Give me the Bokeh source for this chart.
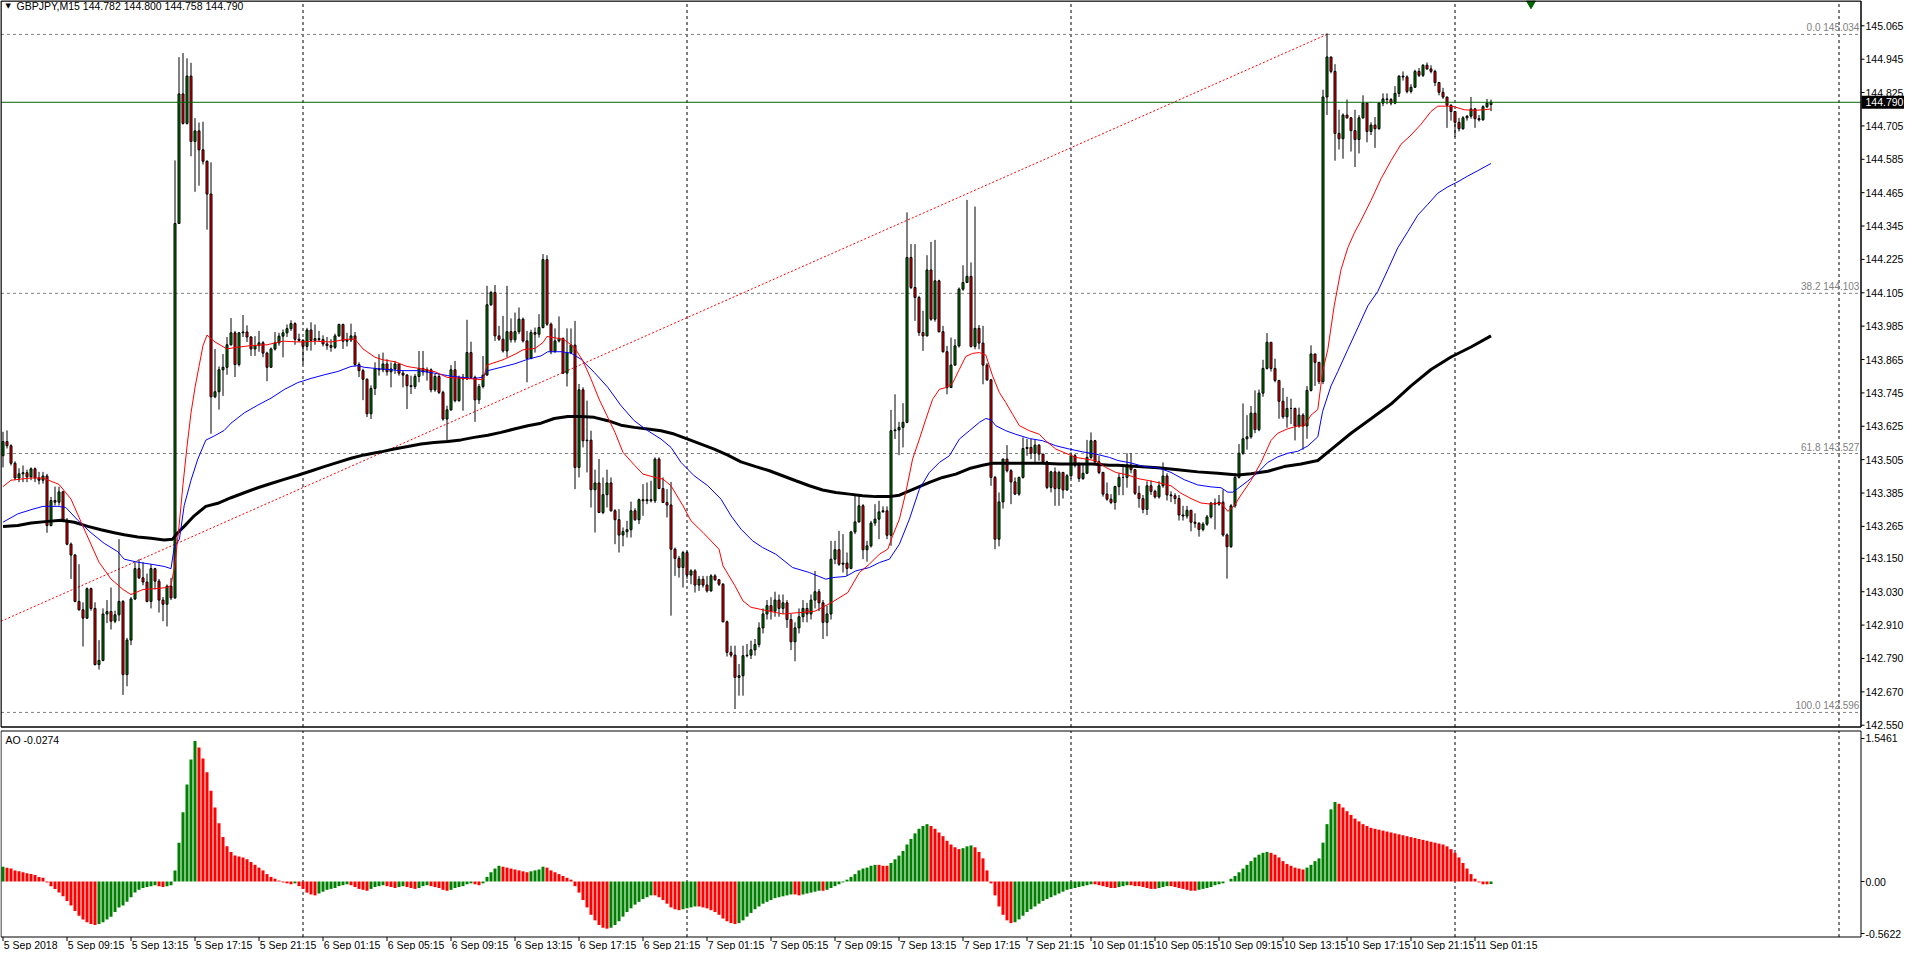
from bokeh.plotting import figure
from bokeh.models import Range1d
from bokeh.core.properties import value
from bokeh.embed import file_html
from bokeh.resources import INLINE

# ---------------- data (GBPJPY M15) ----------------
closes = [
    143.570, 143.555, 143.492, 143.439, 143.454, 143.458, 143.443, 143.472, 143.439, 143.431,
    143.446, 143.268, 143.358, 143.352, 143.389, 143.287, 143.201, 143.162, 142.995, 142.965,
    142.935, 143.041, 142.970, 142.768, 142.783, 142.950, 142.959, 142.924, 142.947, 142.995,
    142.732, 142.856, 143.004, 143.113, 143.080, 143.065, 142.995, 143.113, 143.068, 143.000,
    142.985, 143.050, 143.008, 144.354, 144.820, 144.714, 144.884, 144.649, 144.687, 144.619,
    144.578, 144.460, 143.731, 143.749, 143.828, 143.837, 143.918, 143.961, 143.847, 143.961,
    143.964, 143.946, 143.903, 143.915, 143.925, 143.888, 143.837, 143.903, 143.925, 143.949,
    143.961, 143.976, 143.994, 143.938, 143.934, 143.912, 143.971, 143.934, 143.940, 143.937,
    143.921, 143.915, 143.909, 143.950, 143.991, 143.931, 143.935, 143.950, 143.847, 143.825,
    143.794, 143.670, 143.761, 143.832, 143.828, 143.849, 143.821, 143.831, 143.849, 143.816,
    143.809, 143.771, 143.768, 143.804, 143.833, 143.821, 143.828, 143.756, 143.804, 143.747,
    143.651, 143.684, 143.828, 143.717, 143.801, 143.795, 143.890, 143.801, 143.720, 143.768,
    143.809, 144.062, 144.106, 143.950, 143.938, 143.896, 143.965, 143.936, 143.965, 144.010,
    143.932, 143.869, 143.962, 143.956, 143.980, 144.224, 143.992, 143.893, 143.932, 143.941,
    143.816, 143.890, 143.917, 143.477, 143.756, 143.573, 143.575, 143.397, 143.421, 143.315,
    143.379, 143.421, 143.321, 143.289, 143.234, 143.246, 143.253, 143.321, 143.289, 143.361,
    143.357, 143.361, 143.357, 143.507, 143.401, 143.351, 143.342, 143.183, 143.150, 143.117,
    143.171, 143.090, 143.105, 143.054, 143.075, 143.054, 143.033, 143.087, 143.073, 143.057,
    142.922, 142.812, 142.802, 142.722, 142.728, 142.800, 142.802, 142.821, 142.840, 142.900,
    142.950, 142.980, 142.960, 143.000, 142.970, 142.990, 142.930, 142.850, 142.900, 142.940,
    142.970, 142.950, 143.000, 143.030, 142.990, 142.920, 142.950, 143.147, 143.181, 143.129,
    143.133, 143.114, 143.245, 143.281, 143.339, 143.181, 143.195, 143.277, 143.291, 143.317,
    143.321, 143.233, 143.609, 143.612, 143.621, 143.639, 144.232, 144.124, 144.088, 143.962,
    143.950, 144.187, 144.010, 144.148, 143.965, 143.893, 143.764, 143.845, 143.914, 144.118,
    144.142, 144.164, 143.912, 143.977, 143.924, 143.845, 143.792, 143.441, 143.219, 143.353,
    143.507, 143.465, 143.425, 143.381, 143.441, 143.545, 143.549, 143.528, 143.557, 143.525,
    143.497, 143.405, 143.461, 143.401, 143.459, 143.396, 143.447, 143.519, 143.485, 143.437,
    143.456, 143.513, 143.573, 143.497, 143.459, 143.381, 143.363, 143.351, 143.408, 143.441,
    143.441, 143.485, 143.469, 143.384, 143.365, 143.326, 143.411, 143.391, 143.371, 143.411,
    143.446, 143.378, 143.375, 143.365, 143.306, 143.302, 143.323, 143.280, 143.276, 143.254,
    143.273, 143.299, 143.349, 143.345, 143.352, 143.234, 143.192, 143.339, 143.441, 143.528,
    143.580, 143.587, 143.672, 143.613, 143.744, 143.833, 143.927, 143.833, 143.790, 143.715,
    143.659, 143.689, 143.689, 143.626, 143.665, 143.626, 143.754, 143.885, 143.855, 143.786,
    144.809, 144.953, 144.901, 144.678, 144.659, 144.744, 144.734, 144.688, 144.656, 144.734,
    144.787, 144.685, 144.708, 144.695, 144.787, 144.802, 144.800, 144.787, 144.822, 144.884,
    144.881, 144.829, 144.844, 144.901, 144.887, 144.923, 144.910, 144.901, 144.861, 144.826,
    144.809, 144.779, 144.757, 144.718, 144.695, 144.734, 144.740, 144.766, 144.731, 144.727,
    144.774, 144.787, 144.790,
]
highs = [
    143.605, 143.610, 143.560, 143.499, 143.474, 143.484, 143.469, 143.477, 143.477, 143.461,
    143.461, 143.454, 143.371, 143.408, 143.408, 143.393, 143.295, 143.207, 143.166, 143.129,
    142.992, 143.045, 143.045, 142.992, 142.856, 142.970, 143.000, 143.045, 142.962, 143.219,
    143.000, 142.864, 143.011, 143.136, 143.147, 143.136, 143.095, 143.129, 143.116, 143.076,
    143.011, 143.056, 143.080, 144.581, 144.952, 144.967, 144.948, 144.932, 144.733, 144.717,
    144.720, 144.581, 144.574, 143.903, 143.840, 143.885, 143.946, 144.014, 143.968, 143.964,
    144.025, 143.988, 143.949, 143.949, 143.968, 143.931, 143.893, 143.908, 143.964, 143.961,
    143.973, 143.991, 144.006, 143.999, 143.958, 143.938, 143.979, 143.999, 143.991, 143.968,
    143.952, 143.946, 143.938, 143.958, 143.994, 143.994, 143.961, 143.994, 143.964, 143.855,
    143.832, 143.797, 143.772, 143.855, 143.884, 143.890, 143.866, 143.855, 143.860, 143.849,
    143.825, 143.813, 143.807, 143.813, 143.896, 143.896, 143.837, 143.833, 143.813, 143.813,
    143.753, 143.699, 143.845, 143.860, 143.807, 143.813, 144.008, 143.929, 143.807, 143.777,
    143.878, 144.130, 144.112, 144.133, 143.986, 144.022, 144.130, 144.013, 144.034, 144.052,
    144.016, 143.968, 143.972, 143.980, 144.028, 144.244, 144.240, 143.998, 143.977, 144.020,
    143.944, 143.977, 143.977, 144.004, 143.777, 143.765, 143.717, 143.609, 143.469, 143.507,
    143.441, 143.469, 143.441, 143.327, 143.327, 143.261, 143.285, 143.354, 143.330, 143.365,
    143.417, 143.423, 143.429, 143.513, 143.513, 143.441, 143.399, 143.425, 143.189, 143.159,
    143.177, 143.177, 143.111, 143.111, 143.087, 143.087, 143.087, 143.093, 143.093, 143.075,
    143.061, 142.926, 142.836, 142.836, 142.770, 142.836, 142.842, 142.854, 142.860, 142.920,
    142.970, 143.000, 143.010, 143.030, 143.020, 143.020, 143.000, 142.950, 142.920, 142.970,
    143.000, 142.990, 143.020, 143.105, 143.040, 143.000, 142.980, 143.213, 143.213, 143.249,
    143.237, 143.171, 143.249, 143.381, 143.381, 143.345, 143.213, 143.285, 143.345, 143.357,
    143.337, 143.337, 143.684, 143.740, 143.641, 143.708, 144.394, 144.280, 144.280, 144.094,
    144.040, 144.240, 144.288, 144.295, 144.152, 143.986, 143.914, 143.944, 143.938, 144.124,
    144.204, 144.439, 144.214, 144.415, 143.989, 143.986, 143.852, 143.794, 143.447, 143.387,
    143.509, 143.557, 143.471, 143.441, 143.444, 143.585, 143.579, 143.579, 143.576, 143.561,
    143.519, 143.501, 143.465, 143.477, 143.465, 143.461, 143.453, 143.531, 143.525, 143.495,
    143.489, 143.576, 143.603, 143.576, 143.519, 143.461, 143.423, 143.381, 143.411, 143.456,
    143.485, 143.528, 143.528, 143.469, 143.411, 143.378, 143.427, 143.430, 143.397, 143.427,
    143.495, 143.456, 143.391, 143.384, 143.378, 143.339, 143.339, 143.319, 143.312, 143.280,
    143.280, 143.306, 143.352, 143.365, 143.378, 143.397, 143.240, 143.345, 143.456, 143.561,
    143.707, 143.665, 143.698, 143.754, 143.757, 143.864, 143.960, 143.927, 143.868, 143.790,
    143.763, 143.731, 143.724, 143.692, 143.692, 143.672, 143.770, 143.916, 143.885, 143.855,
    144.835, 145.038, 144.953, 144.927, 144.763, 144.750, 144.800, 144.737, 144.763, 144.744,
    144.815, 144.783, 144.718, 144.737, 144.789, 144.822, 144.822, 144.805, 144.848, 144.887,
    144.901, 144.887, 144.855, 144.907, 144.913, 144.927, 144.933, 144.923, 144.907, 144.861,
    144.842, 144.809, 144.783, 144.744, 144.734, 144.740, 144.744, 144.809, 144.770, 144.744,
    144.779, 144.802, 144.800,
]
lows = [
    143.477, 143.545, 143.484, 143.431, 143.424, 143.424, 143.424, 143.431, 143.424, 143.416,
    143.419, 143.242, 143.265, 143.340, 143.340, 143.280, 143.197, 143.076, 142.992, 142.962,
    142.833, 142.932, 142.962, 142.765, 142.750, 142.780, 142.917, 142.894, 142.917, 142.924,
    142.659, 142.690, 142.838, 143.000, 143.076, 143.053, 142.992, 142.970, 143.038, 142.955,
    142.924, 142.905, 143.000, 143.004, 144.354, 144.710, 144.710, 144.596, 144.468, 144.490,
    144.566, 144.332, 143.598, 143.726, 143.685, 143.734, 143.810, 143.915, 143.802, 143.840,
    143.946, 143.928, 143.878, 143.878, 143.893, 143.873, 143.787, 143.837, 143.897, 143.915,
    143.873, 143.946, 143.968, 143.918, 143.928, 143.847, 143.897, 143.897, 143.918, 143.928,
    143.912, 143.900, 143.893, 143.903, 143.946, 143.903, 143.912, 143.928, 143.840, 143.802,
    143.719, 143.658, 143.651, 143.737, 143.807, 143.819, 143.807, 143.765, 143.813, 143.807,
    143.765, 143.687, 143.741, 143.759, 143.783, 143.807, 143.789, 143.747, 143.749, 143.741,
    143.645, 143.569, 143.681, 143.711, 143.713, 143.681, 143.792, 143.795, 143.641, 143.705,
    143.761, 143.807, 144.058, 143.932, 143.932, 143.890, 143.873, 143.926, 143.926, 143.956,
    143.926, 143.783, 143.866, 143.890, 143.944, 143.977, 143.986, 143.884, 143.890, 143.926,
    143.813, 143.768, 143.884, 143.399, 143.441, 143.549, 143.459, 143.333, 143.243, 143.313,
    143.309, 143.333, 143.318, 143.201, 143.171, 143.193, 143.225, 143.225, 143.285, 143.273,
    143.303, 143.345, 143.351, 143.349, 143.399, 143.349, 143.297, 142.944, 143.087, 143.081,
    143.045, 143.075, 143.057, 143.027, 143.033, 143.045, 143.027, 143.030, 143.069, 143.051,
    142.920, 142.797, 142.794, 142.608, 142.656, 142.656, 142.794, 142.788, 142.800, 142.830,
    142.880, 142.930, 142.930, 142.940, 142.940, 142.950, 142.900, 142.820, 142.780, 142.880,
    142.920, 142.920, 142.930, 142.970, 142.960, 142.860, 142.870, 142.930, 143.129, 143.123,
    143.099, 143.087, 143.111, 143.237, 143.279, 143.147, 143.138, 143.189, 143.267, 143.219,
    143.315, 143.219, 143.195, 143.579, 143.521, 143.549, 143.636, 144.118, 144.004, 143.950,
    143.896, 143.948, 144.004, 144.001, 143.962, 143.890, 143.740, 143.764, 143.842, 143.908,
    144.112, 144.160, 143.908, 143.902, 143.902, 143.776, 143.788, 143.411, 143.183, 143.193,
    143.329, 143.459, 143.345, 143.378, 143.375, 143.437, 143.519, 143.507, 143.497, 143.501,
    143.489, 143.399, 143.387, 143.339, 143.339, 143.365, 143.393, 143.435, 143.477, 143.425,
    143.432, 143.453, 143.507, 143.492, 143.453, 143.372, 143.357, 143.345, 143.325, 143.377,
    143.377, 143.404, 143.456, 143.378, 143.332, 143.312, 143.306, 143.378, 143.365, 143.365,
    143.404, 143.358, 143.352, 143.345, 143.286, 143.286, 143.293, 143.247, 143.260, 143.228,
    143.247, 143.267, 143.293, 143.254, 143.339, 143.228, 143.077, 143.188, 143.332, 143.437,
    143.522, 143.541, 143.580, 143.600, 143.607, 143.731, 143.829, 143.822, 143.783, 143.652,
    143.652, 143.620, 143.633, 143.574, 143.620, 143.541, 143.580, 143.750, 143.770, 143.777,
    143.777, 144.744, 144.894, 144.580, 144.620, 144.587, 144.731, 144.613, 144.557, 144.606,
    144.731, 144.646, 144.672, 144.626, 144.691, 144.776, 144.783, 144.779, 144.783, 144.809,
    144.868, 144.822, 144.822, 144.842, 144.881, 144.881, 144.907, 144.894, 144.848, 144.815,
    144.802, 144.698, 144.724, 144.665, 144.685, 144.691, 144.724, 144.731, 144.698, 144.721,
    144.724, 144.769, 144.758,
]
first_open = 143.519
last_bar = {"open": 144.782, "high": 144.800, "low": 144.758, "close": 144.790}

# moving averages (bar position, value)
red_bar = [0, 2, 7, 10, 14, 17, 20, 24, 27, 30, 32, 35, 38, 41, 42, 43, 44, 45, 46, 47,
           48, 49, 50, 51, 53, 56, 58, 62, 66, 70, 74, 78, 82, 86, 88, 90, 93, 95, 98, 101,
           105, 108, 111, 115, 118, 120, 121, 125, 128, 130, 133, 135, 136, 140, 141, 143, 145, 147, 149, 151,
           153, 155, 158, 160, 163, 165, 167, 170, 172, 175, 177, 179, 180, 183, 185, 187, 195, 203, 207, 211.2,
           214.1, 216.6, 219.1, 221.2, 222.4, 224.1, 225.7, 227.4, 229.1, 230.7,
           232.4, 234.1, 235.7, 237.4, 239.1, 240.7, 242.4, 244.1, 245.7, 247.4,
           249.1, 250.7, 252.4, 254.1, 256.6, 259.1, 260.7, 263.2, 265.7, 268.2,
           270.7, 273.2, 275.7, 278.2, 281.2, 283.7, 287, 289.5, 292, 294.5,
           297, 299.5, 302, 304.5, 306.2, 307.8, 309.5, 312, 314.5, 317,
           318.7, 321.2, 323.7, 325.3, 327, 328.7, 329.9, 331.2, 332.8, 334.5,
           336.2, 337.8, 339.5, 342, 344.5, 347, 349.5, 352, 354.5, 357,
           358.7, 361.2, 362.8, 365.3, 367.8, 370.3, 372]
red_val = [143.408, 143.431, 143.439, 143.439, 143.416, 143.363, 143.265, 143.136, 143.076, 143.038,
           143.020, 143.038, 143.041, 143.045, 143.053, 143.129, 143.265, 143.416, 143.552, 143.673,
           143.764, 143.840, 143.915, 143.953, 143.928, 143.903, 143.908, 143.915, 143.918, 143.931,
           143.928, 143.931, 143.928, 143.938, 143.938, 143.903, 143.873, 143.864, 143.857, 143.840,
           143.831, 143.821, 143.801, 143.797, 143.795, 143.792, 143.845, 143.864, 143.884, 143.900,
           143.905, 143.926, 143.948, 143.938, 143.929, 143.905, 143.860, 143.795, 143.723, 143.663,
           143.603, 143.531, 143.483, 143.453, 143.441, 143.435, 143.411, 143.339, 143.285, 143.243,
           143.213, 143.183, 143.123, 143.051, 142.997, 142.974, 142.950, 142.960, 142.990, 143.027,
           143.099, 143.129, 143.165, 143.183, 143.231, 143.291, 143.387, 143.507, 143.579, 143.650,
           143.722, 143.758, 143.764, 143.780, 143.830, 143.876, 143.887, 143.890, 143.881, 143.806,
           143.746, 143.710, 143.668, 143.627, 143.609, 143.596, 143.573, 143.543, 143.528, 143.513,
           143.507, 143.501, 143.477, 143.459, 143.450, 143.437, 143.428, 143.420, 143.411, 143.384,
           143.365, 143.349, 143.345, 143.349, 143.319, 143.339, 143.378, 143.430, 143.495, 143.574,
           143.600, 143.616, 143.626, 143.626, 143.665, 143.685, 143.822, 143.901, 144.058, 144.188,
           144.267, 144.319, 144.365, 144.437, 144.515, 144.580, 144.639, 144.672, 144.711, 144.757,
           144.776, 144.776, 144.774, 144.763, 144.761, 144.763, 144.766]
blue_bar = [0, 3.7, 7, 10, 13.7, 15.7, 18.7, 22, 25.3, 28.7, 30.3, 33.7, 37, 40.3, 42, 42.8, 44.1, 45.3, 47, 48.7,
            50.7, 52.8, 55.3, 57, 60.3, 63.7, 67, 70.3, 73.7, 77, 80.3, 83.7, 87, 88.7, 90.3, 93.7, 99.5, 103.7, 107.8, 111.2,
            114.5, 117.8, 119.9, 121.2, 124.5, 127.8, 131.2, 134.5, 136.2, 139.5, 142, 144.5, 147.8, 151.2, 154.5, 157.8, 161.2, 164.5, 167, 169.5,
            172.8, 176.2, 179.5, 182, 184.5, 187.4, 189.9, 193.2, 197.4, 201.6, 205.7, 207.4, 210.7, 213.2, 216.6, 219.1, 221.6, 224.1, 226.6, 229.1,
            231.6, 234.1, 236.6, 239.1, 241.6, 244.1, 245.7, 247, 248.2, 250.7, 253.2, 256.6, 259.9, 263.2, 266.6, 269.9, 273.2, 276.6, 278.7, 282,
            285.3, 288.7, 292, 295.3, 298.7, 302, 304.5, 306.2, 307.4, 308.7, 311.2, 313.7, 316.2, 318.7, 321.2, 323.7, 326.2, 328.7, 329.9, 332,
            333.7, 336.2, 338.7, 341.2, 343.7, 346.2, 348.7, 351.2, 353.7, 356.2, 358.7, 361.2, 363.7, 366.2, 368.7, 372]
blue_val = [143.280, 143.310, 143.325, 143.337, 143.337, 143.333, 143.287, 143.242, 143.204, 143.174,
            143.147, 143.136, 143.129, 143.121, 143.113, 143.189, 143.219, 143.340, 143.431, 143.507,
            143.575, 143.590, 143.610, 143.636, 143.673, 143.701, 143.726, 143.757, 143.782, 143.797,
            143.810, 143.822, 143.840, 143.843, 143.837, 143.832, 143.825, 143.825, 143.816, 143.807,
            143.801, 143.797, 143.801, 143.825, 143.837, 143.849, 143.866, 143.878, 143.893, 143.893,
            143.888, 143.866, 143.819, 143.765, 143.699, 143.645, 143.609, 143.579, 143.549, 143.495,
            143.447, 143.411, 143.363, 143.303, 143.255, 143.213, 143.189, 143.165, 143.117, 143.099,
            143.075, 143.081, 143.085, 143.105, 143.117, 143.135, 143.147, 143.201, 143.291, 143.399,
            143.459, 143.495, 143.519, 143.579, 143.609, 143.639, 143.653, 143.648, 143.627, 143.609,
            143.596, 143.581, 143.573, 143.555, 143.543, 143.533, 143.525, 143.513, 143.502, 143.493,
            143.480, 143.476, 143.459, 143.433, 143.414, 143.407, 143.404, 143.388, 143.388, 143.401,
            143.428, 143.459, 143.495, 143.515, 143.528, 143.535, 143.554, 143.587, 143.678, 143.770,
            143.822, 143.901, 143.979, 144.058, 144.110, 144.188, 144.267, 144.325, 144.384, 144.423,
            144.463, 144.486, 144.504, 144.525, 144.544, 144.570]
black_bar = [0, 3.7, 7, 11.2, 14.5, 17.8, 21.2, 24.5, 27.8, 30.3, 33.7, 37, 40.3, 42.4, 43.7, 45.3, 47.8, 50.7, 53.7, 57,
             60.3, 63.7, 67, 70.3, 73.7, 77, 80.3, 83.7, 87, 90.3, 94.5, 97.8, 101.2, 104.5, 107.8, 111.2, 114.5, 117.8, 121.2, 124.5,
             127.8, 131.2, 134.5, 137.8, 141.2, 144.5, 147.8, 151.2, 154.5, 157.8, 161.2, 164.5, 167.8, 171.2, 174.5, 177.8, 181.2, 184.5, 188.2, 191.6,
             194.9, 198.2, 201.6, 204.9, 208.2, 211.6, 214.9, 218.2, 221.6, 224.1, 226.6, 229.1, 231.6, 234.9, 238.2, 241.6, 244.9, 247.4, 251.6, 255.7,
             259.9, 264.1, 268.2, 272.4, 276.6, 278.7, 283.7, 288.7, 293.7, 298.7, 303.7, 308.7, 312, 316.2, 320.3, 324.5, 328.7, 332, 337, 342,
             347, 352, 357, 362, 367, 372]
black_val = [143.265, 143.268, 143.277, 143.283, 143.287, 143.280, 143.265, 143.253, 143.242, 143.235,
             143.227, 143.222, 143.216, 143.219, 143.242, 143.265, 143.303, 143.337, 143.348, 143.368,
             143.386, 143.404, 143.419, 143.434, 143.449, 143.464, 143.480, 143.495, 143.510, 143.522,
             143.533, 143.543, 143.552, 143.561, 143.567, 143.570, 143.576, 143.585, 143.593, 143.603,
             143.615, 143.627, 143.636, 143.653, 143.660, 143.660, 143.657, 143.645, 143.629, 143.621,
             143.615, 143.609, 143.597, 143.579, 143.561, 143.543, 143.521, 143.497, 143.480, 143.465,
             143.447, 143.429, 143.411, 143.396, 143.387, 143.381, 143.375, 143.372, 143.372, 143.377,
             143.393, 143.408, 143.423, 143.441, 143.453, 143.473, 143.485, 143.492, 143.492, 143.492,
             143.492, 143.489, 143.489, 143.489, 143.485, 143.485, 143.480, 143.476, 143.469, 143.461,
             143.456, 143.450, 143.454, 143.463, 143.480, 143.489, 143.502, 143.541, 143.600, 143.652,
             143.705, 143.770, 143.829, 143.874, 143.910, 143.950]

# Awesome Oscillator, one value per bar
ao = [
    0.16, 0.15, 0.14, 0.12, 0.11, 0.10, 0.09, 0.08, 0.07, 0.05, 0.04,
    -0.01, -0.05, -0.08, -0.12, -0.16, -0.21, -0.26, -0.32, -0.37, -0.41, -0.44, -0.46, -0.47, -0.46,
    -0.44, -0.41, -0.38, -0.33, -0.28, -0.26, -0.22, -0.17, -0.12, -0.09, -0.07,
    -0.06, -0.05, -0.04, -0.05, -0.06, -0.05, -0.04,
    0.12, 0.42, 0.75, 1.05, 1.32, 1.52,
    1.45, 1.33, 1.18, 0.98, 0.80, 0.63, 0.48, 0.38, 0.32, 0.28, 0.27, 0.26,
    0.24, 0.21, 0.18, 0.15, 0.12, 0.08, 0.05, 0.03,
    0.01, -0.01, -0.02, -0.03, -0.02, -0.05, -0.08,
    -0.12, -0.14, -0.15, -0.13, -0.11, -0.09, -0.08, -0.07, -0.05, -0.04, -0.03, -0.04,
    -0.06, -0.08, -0.09, -0.10, -0.08, -0.06, -0.05, -0.04, -0.05, -0.06, -0.07, -0.06, -0.05,
    -0.06, -0.07, -0.08, -0.07, -0.05, -0.04, -0.05, -0.06, -0.07, -0.09,
    -0.10, -0.09, -0.07, -0.06, -0.05, -0.03, -0.02, -0.03, -0.04, -0.02,
    0.05, 0.10, 0.14, 0.17, 0.16, 0.15, 0.14, 0.13, 0.12, 0.11,
    0.10, 0.11, 0.12, 0.13, 0.16, 0.15, 0.12, 0.10, 0.08, 0.06,
    0.04, 0.02, -0.05, -0.12, -0.20, -0.28, -0.36, -0.42, -0.47, -0.50,
    -0.51, -0.50, -0.47, -0.43, -0.38, -0.33, -0.29, -0.25, -0.22, -0.19,
    -0.17, -0.15, -0.15, -0.17, -0.20,
    -0.24, -0.28, -0.30, -0.31, -0.30, -0.29, -0.28, -0.27, -0.27, -0.28,
    -0.29, -0.31, -0.33, -0.36, -0.40, -0.43, -0.45, -0.46, -0.45, -0.42,
    -0.38, -0.34, -0.30, -0.27, -0.24,
    -0.22, -0.20, -0.18, -0.17, -0.16, -0.15, -0.14, -0.14, -0.15, -0.14,
    -0.13, -0.12, -0.11, -0.10, -0.10, -0.09, -0.07, -0.05, -0.03, -0.01,
    0.02, 0.05,
    0.08, 0.12, 0.14, 0.15, 0.17, 0.18, 0.18, 0.17, 0.17, 0.20,
    0.24, 0.28, 0.33, 0.40, 0.46, 0.52, 0.57, 0.60, 0.62,
    0.60, 0.57, 0.53, 0.49, 0.44, 0.40, 0.37, 0.35, 0.36, 0.38,
    0.39, 0.37, 0.32, 0.25, 0.12, -0.02,
    -0.15, -0.27, -0.36, -0.42, -0.45, -0.44, -0.41, -0.37, -0.33, -0.30,
    -0.27, -0.24, -0.21, -0.19, -0.17, -0.15, -0.13, -0.11,
    -0.09, -0.08, -0.07, -0.06, -0.05, -0.04, -0.03, -0.03, -0.04, -0.05,
    -0.06, -0.07, -0.07, -0.06, -0.05, -0.04, -0.04, -0.05, -0.05, -0.06,
    -0.07, -0.08, -0.08, -0.07, -0.06, -0.05, -0.05, -0.06, -0.07, -0.08,
    -0.09, -0.10, -0.10, -0.09, -0.08, -0.07, -0.06, -0.04, -0.03, -0.02,
    0.00, 0.03, 0.06, 0.10, 0.14, 0.18, 0.22, 0.26, 0.29, 0.31,
    0.32, 0.31, 0.29, 0.26, 0.22, 0.19, 0.17, 0.15, 0.14, 0.13,
    0.15, 0.18, 0.22, 0.25,
    0.42, 0.62, 0.78, 0.86, 0.84, 0.80, 0.76, 0.72, 0.68, 0.65,
    0.62, 0.60, 0.58, 0.57, 0.56, 0.55, 0.54, 0.53, 0.52, 0.51, 0.50,
    0.49, 0.48, 0.47, 0.46, 0.45, 0.44, 0.43, 0.42, 0.41, 0.40,
    0.38, 0.35, 0.31, 0.26, 0.20, 0.14, 0.08, 0.03, -0.01, -0.03,
    -0.03, -0.0274,
]

# Fibonacci retracement
fib_levels = [145.034, 144.103, 143.527, 142.596]
fib_names = ["0.0", "38.2", "61.8", "100.0"]
fib_anchor_bars = [-52, 331]
fib_anchor_prices = [142.596, 145.034]

bid_price = 144.790
day_grid_bars = [75, 171, 267, 363, 459]
shift_marker_bar = 382

price_ticks = [145.065, 144.945, 144.825, 144.705, 144.585, 144.465, 144.345, 144.225, 144.105,
               143.985, 143.865, 143.745, 143.625, 143.505, 143.385, 143.265, 143.150, 143.030,
               142.910, 142.790, 142.670, 142.550]
ao_ticks = [1.5461, 0.0, -0.5622]
ao_tick_labels = ["1.5461", "0.00", "-0.5622"]
time_tick_bars = [0, 16, 32, 48, 64, 80, 96, 112, 128, 144, 160, 176, 192, 208, 224, 240,
                  256, 272, 288, 304, 320, 336, 352, 368]
time_labels = ["5 Sep 2018", "5 Sep 09:15", "5 Sep 13:15", "5 Sep 17:15", "5 Sep 21:15",
               "6 Sep 01:15", "6 Sep 05:15", "6 Sep 09:15", "6 Sep 13:15", "6 Sep 17:15",
               "6 Sep 21:15", "7 Sep 01:15", "7 Sep 05:15", "7 Sep 09:15", "7 Sep 13:15",
               "7 Sep 17:15", "7 Sep 21:15", "10 Sep 01:15", "10 Sep 05:15", "10 Sep 09:15",
               "10 Sep 13:15", "10 Sep 17:15", "10 Sep 21:15", "11 Sep 01:15"]
symbol_header = "GBPJPY,M15  144.782 144.800 144.758 144.790"
ao_header = "AO -0.0274"

# ---------------- layout helpers (page pixels -> data units) ----------------
W, H = 1904, 950          # canvas, placed at page (8, 8)
BAR0_PX, BAR_STEP = 10.5, 4.0


def bx(px):               # page x -> bar units
    return (px - BAR0_PX) / BAR_STEP


def py(px):               # page y -> price
    return 145.065 - (px - 33.3) / 278.1


def ay(px):               # page y -> AO value
    return (889.0 - px) / 92.5


LEFT, RIGHT = bx(8.5), bx(1868.5)
M_TOP, M_BOT = py(8.5), py(734.5)
A_TOP, A_BOT = ay(738.5), ay(944.5)
PX_P = 1 / 278.1
PX_A = 1 / 92.5

# ---------------- derived ----------------
n = min(len(closes), len(highs), len(lows))
closes, highs, lows = closes[:n], highs[:n], lows[:n]
closes[-1] = last_bar["close"]
highs[-1] = last_bar["high"]
lows[-1] = last_bar["low"]
opens = [first_open] + closes[:-1]
opens[-1] = last_bar["open"]
bars = list(range(n))
hi = [max(h, o, c) for h, o, c in zip(highs, opens, closes)]
lo = [min(l, o, c) for l, o, c in zip(lows, opens, closes)]
body_top = [max(o, c) for o, c in zip(opens, closes)]
body_bot = [min(o, c) for o, c in zip(opens, closes)]
body_col = ["#008000" if c > o else ("#ff0000" if c < o else "#000000") for o, c in zip(opens, closes)]

ao_bars = list(range(len(ao)))
ao_col = ["#008000"] + ["#008000" if ao[i] > ao[i - 1] else "#ff0000" for i in range(1, len(ao))]

FONT = value("Liberation Sans")
FS = value("10.5px")

p = figure(width=W, height=H,
           x_range=Range1d(bx(8), bx(8 + W)), y_range=Range1d(py(8 + H), py(8)),
           extra_y_ranges={"ao": Range1d(ay(8 + H), ay(8))},
           x_axis_location=None, y_axis_location=None,
           toolbar_location=None, output_backend="svg",
           min_border_left=0, min_border_right=0, min_border_top=0, min_border_bottom=0,
           background_fill_color="white", border_fill_color="white")
p.xgrid.visible = False
p.ygrid.visible = False
p.outline_line_color = None

# ---- price panel ----
p.segment(x0=day_grid_bars, y0=[M_BOT] * len(day_grid_bars), x1=day_grid_bars, y1=[M_TOP] * len(day_grid_bars),
          line_color="black", line_dash="3 3", line_width=1)
p.segment(x0=[LEFT] * 4, y0=fib_levels, x1=[RIGHT] * 4, y1=fib_levels,
          line_color="#808080", line_dash="3 3", line_width=1)
slope = (fib_anchor_prices[1] - fib_anchor_prices[0]) / (fib_anchor_bars[1] - fib_anchor_bars[0])
p.segment(x0=[LEFT], y0=[fib_anchor_prices[0] + (LEFT - fib_anchor_bars[0]) * slope],
          x1=[fib_anchor_bars[1]], y1=[fib_anchor_prices[1]],
          line_color="#ff0000", line_dash="2 2", line_width=1)

p.segment(x0=bars, y0=lo, x1=bars, y1=hi, line_color="black", line_width=1)
p.vbar(x=bars, width=0.5, top=body_top, bottom=body_bot,
       fill_color=body_col, line_color="black", line_width=1)

p.line(black_bar[:len(black_val)], black_val[:len(black_bar)], line_color="black", line_width=3)
p.line(blue_bar[:len(blue_val)], blue_val[:len(blue_bar)], line_color="#0000ff", line_width=1)
p.line(red_bar[:len(red_val)], red_val[:len(red_bar)], line_color="#ff0000", line_width=1)

p.segment(x0=[LEFT], y0=[bid_price], x1=[RIGHT], y1=[bid_price], line_color="#006400", line_width=1)

p.scatter(x=[shift_marker_bar], y=[py(11)], marker="inverted_triangle", size=9,
          fill_color="#006400", line_color="#006400")

p.text(x=[RIGHT - 0.4] * 4, y=[lv + PX_P for lv in fib_levels],
       text=[f"{nm} {lv:.3f}" for nm, lv in zip(fib_names, fib_levels)],
       text_align="right", text_baseline="bottom", text_color="#808080",
       text_font=FONT, text_font_size=value("10px"))

p.text(x=[bx(13)], y=[py(13.5)], text=["\u25BC"], text_font=value("DejaVu Sans"),
       text_font_size=value("7px"), text_baseline="middle", text_align="left", text_color="black")
p.text(x=[bx(24)], y=[py(13.5)], text=[symbol_header], text_font=FONT,
       text_font_size=FS, text_baseline="middle", text_align="left", text_color="black")

p.quad(left=[LEFT, LEFT], right=[RIGHT, RIGHT], top=[M_TOP, M_TOP], bottom=[M_BOT, M_BOT],
       fill_color=None, line_color="black", line_width=1)

# price axis
p.segment(x0=[RIGHT] * len(price_ticks), y0=price_ticks, x1=[bx(1872)] * len(price_ticks), y1=price_ticks,
          line_color="black", line_width=1)
p.text(x=[bx(1873)] * len(price_ticks), y=price_ticks, text=[f"{t:.3f}" for t in price_ticks],
       text_align="left", text_baseline="middle", text_color="black", text_font=FONT, text_font_size=FS)
p.quad(left=[bx(1869)], right=[bx(1912)], top=[bid_price + 6.5 * PX_P], bottom=[bid_price - 6.5 * PX_P],
       fill_color="black", line_color=None)
p.text(x=[bx(1873)], y=[bid_price], text=[f"{bid_price:.3f}"], text_align="left", text_baseline="middle",
       text_color="white", text_font=FONT, text_font_size=FS)

# ---- AO panel ----
p.segment(x0=day_grid_bars, y0=[A_BOT] * len(day_grid_bars), x1=day_grid_bars, y1=[A_TOP] * len(day_grid_bars),
          line_color="black", line_dash="3 3", line_width=1, y_range_name="ao")
p.vbar(x=ao_bars, width=0.75, top=ao, bottom=0, fill_color=ao_col, line_color=None, y_range_name="ao")
p.quad(left=[LEFT], right=[RIGHT], top=[A_TOP], bottom=[A_BOT],
       fill_color=None, line_color="black", line_width=1, y_range_name="ao")
p.text(x=[bx(13)], y=[ay(747)], text=[ao_header], text_font=FONT, text_font_size=FS,
       text_baseline="middle", text_align="left", text_color="black", y_range_name="ao")

p.segment(x0=[RIGHT] * 3, y0=ao_ticks, x1=[bx(1872)] * 3, y1=ao_ticks,
          line_color="black", line_width=1, y_range_name="ao")
p.text(x=[bx(1873)] * 3, y=ao_ticks, text=ao_tick_labels, text_align="left", text_baseline="middle",
       text_color="black", text_font=FONT, text_font_size=FS, y_range_name="ao")

# time axis
p.segment(x0=time_tick_bars, y0=[A_BOT] * len(time_tick_bars), x1=time_tick_bars,
          y1=[ay(948.5)] * len(time_tick_bars), line_color="black", line_width=1, y_range_name="ao")
p.text(x=[t + 0.2 for t in time_tick_bars], y=[ay(952)] * len(time_tick_bars), text=time_labels,
       text_align="left", text_baseline="middle", text_color="black", text_font=FONT, text_font_size=FS,
       y_range_name="ao")

open("out.html", "w").write(file_html(p, INLINE))
